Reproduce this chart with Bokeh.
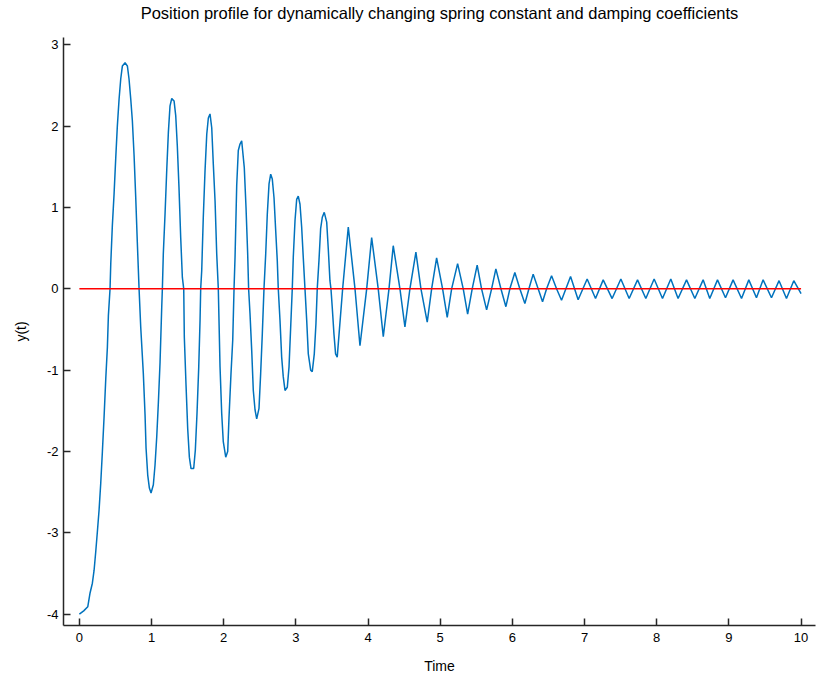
from bokeh.plotting import figure
from bokeh.models import Range1d, FixedTicker, Title
from bokeh.embed import file_html
from bokeh.resources import INLINE

# Position samples (time, y(t))
time = [
    0.000, 0.060, 0.116, 0.148, 0.180, 0.204, 0.227, 0.249, 0.273, 0.296,
    0.319, 0.342, 0.366, 0.388, 0.402, 0.425, 0.435, 0.457, 0.481, 0.504,
    0.526, 0.550, 0.573, 0.596, 0.633, 0.665, 0.688, 0.712, 0.734, 0.758,
    0.781, 0.803, 0.827, 0.850, 0.886, 0.910, 0.924, 0.947, 0.970, 0.993,
    1.025, 1.048, 1.072, 1.094, 1.118, 1.141, 1.150, 1.163, 1.187, 1.211,
    1.233, 1.256, 1.280, 1.312, 1.335, 1.357, 1.380, 1.404, 1.427, 1.446,
    1.454, 1.478, 1.501, 1.524, 1.547, 1.584, 1.607, 1.630, 1.654, 1.672,
    1.681, 1.695, 1.717, 1.741, 1.765, 1.787, 1.810, 1.834, 1.856, 1.880,
    1.903, 1.925, 1.949, 1.972, 1.994, 2.028, 2.055, 2.073, 2.101, 2.125,
    2.143, 2.157, 2.180, 2.202, 2.226, 2.249, 2.285, 2.309, 2.332, 2.345,
    2.364, 2.388, 2.410, 2.434, 2.457, 2.489, 2.512, 2.535, 2.558, 2.582,
    2.604, 2.628, 2.651, 2.673, 2.697, 2.720, 2.742, 2.756, 2.780, 2.803,
    2.825, 2.849, 2.881, 2.905, 2.928, 2.950, 2.964, 2.988, 3.011, 3.033,
    3.057, 3.080, 3.102, 3.126, 3.150, 3.172, 3.205, 3.227, 3.255, 3.278,
    3.296, 3.320, 3.343, 3.366, 3.393, 3.427, 3.449, 3.472, 3.486, 3.504,
    3.527, 3.550, 3.573, 3.648, 3.726, 3.819, 3.888, 3.981, 4.050, 4.141,
    4.211, 4.290, 4.349, 4.442, 4.511, 4.580, 4.663, 4.733, 4.820, 4.881,
    4.950, 5.033, 5.097, 5.158, 5.241, 5.319, 5.380, 5.443, 5.512, 5.573,
    5.643, 5.712, 5.771, 5.841, 5.910, 5.965, 6.034, 6.103, 6.173, 6.229,
    6.288, 6.357, 6.418, 6.474, 6.543, 6.612, 6.681, 6.806, 6.911, 7.036,
    7.152, 7.258, 7.382, 7.503, 7.618, 7.734, 7.849, 7.964, 8.080, 8.195,
    8.296, 8.413, 8.528, 8.643, 8.735, 8.842, 8.953, 9.058, 9.175, 9.276,
    9.382, 9.474, 9.590, 9.695, 9.798, 9.899, 10.000,
]
position = [
    -4.00, -3.96, -3.91, -3.74, -3.62, -3.46, -3.23, -2.99, -2.72, -2.39,
    -2.00, -1.58, -1.10, -0.72, -0.33, 0.00, 0.31, 0.78, 1.17, 1.61,
    2.00, 2.33, 2.58, 2.74, 2.78, 2.74, 2.58, 2.33, 2.07, 1.64,
    1.12, 0.57, 0.00, -0.47, -1.04, -1.55, -1.96, -2.29, -2.45, -2.51,
    -2.41, -2.17, -1.82, -1.41, -0.90, -0.23, 0.00, 0.43, 0.92, 1.47,
    1.92, 2.25, 2.34, 2.31, 2.13, 1.76, 1.25, 0.63, 0.14, 0.00,
    -0.59, -1.19, -1.72, -2.07, -2.21, -2.21, -1.98, -1.53, -0.96, -0.39,
    0.00, 0.22, 0.88, 1.45, 1.90, 2.10, 2.15, 1.98, 1.53, 1.08,
    0.43, 0.00, -0.96, -1.53, -1.88, -2.07, -2.00, -1.59, -1.04, -0.63,
    0.00, 0.39, 1.27, 1.70, 1.78, 1.82, 1.49, 1.00, 0.43, 0.00,
    -0.30, -0.76, -1.25, -1.49, -1.60, -1.47, -1.04, -0.55, 0.00, 0.43,
    0.92, 1.29, 1.41, 1.35, 1.12, 0.72, 0.35, 0.00, -0.39, -0.84,
    -1.08, -1.25, -1.21, -0.96, -0.47, 0.00, 0.39, 0.84, 1.10, 1.14,
    1.04, 0.76, 0.39, 0.00, -0.39, -0.80, -1.00, -1.02, -0.80, -0.43,
    0.00, 0.35, 0.74, 0.88, 0.94, 0.82, 0.49, 0.10, 0.00, -0.23,
    -0.55, -0.80, -0.84, 0.00, 0.76, 0.00, -0.70, 0.00, 0.63, 0.00,
    -0.59, 0.00, 0.53, 0.00, -0.47, 0.00, 0.45, 0.00, -0.41, 0.00,
    0.38, 0.00, -0.35, 0.00, 0.31, 0.00, -0.31, 0.00, 0.29, 0.00,
    -0.26, 0.00, 0.245, 0.00, -0.22, 0.00, 0.20, 0.00, -0.18, 0.00,
    0.18, 0.00, -0.16, 0.00, 0.16, 0.00, -0.14, 0.15, -0.135, 0.12,
    -0.12, 0.11, -0.12, 0.12, -0.12, 0.11, -0.12, 0.12, -0.12, 0.12,
    -0.12, 0.11, -0.12, 0.11, -0.12, 0.11, -0.11, 0.11, -0.12, 0.11,
    -0.11, 0.11, -0.11, 0.10, -0.12, 0.10, -0.06,
]
ref_time = [0, 10]
ref_value = [0, 0]
x_ticks = [0, 1, 2, 3, 4, 5, 6, 7, 8, 9, 10]
y_ticks = [-4, -3, -2, -1, 0, 1, 2, 3]
y_tick_labels = {-4: "-4", -3: "-3", -2: "-2", -1: "-1", 0: "0", 1: "1", 2: "2", 3: "3"}

title_text = "Position profile for dynamically changing spring constant and damping coefficients"

p = figure(width=817, height=676, output_backend="svg", toolbar_location=None,
           x_range=Range1d(-0.22, 10.2), y_range=Range1d(-4.14, 3.09),
           min_border_left=63, min_border_right=2, min_border_top=37,
           min_border_bottom=50)

spacer_title = Title(text=" ", text_font_size="1px", standoff=13, offset=0)
main_title = Title(text=title_text, text_font="Liberation Sans",
                   text_font_size="16.5px", text_font_style="normal",
                   align="center", text_color="#000000", standoff=0, offset=0)
p.add_layout(spacer_title, "above")
p.add_layout(main_title, "above")

p.line(time, position, line_color="#0072BD", line_width=1.5)
p.line(ref_time, ref_value, line_color="#FF0000", line_width=1.5)

p.xgrid.visible = False
p.ygrid.visible = False
p.outline_line_color = None
p.background_fill_color = "white"
p.border_fill_color = "white"

p.xaxis.ticker = FixedTicker(ticks=x_ticks)
p.yaxis.ticker = FixedTicker(ticks=y_ticks)
p.yaxis.major_label_overrides = y_tick_labels
for ax in (p.xaxis, p.yaxis):
    ax.axis_line_color = "#262626"
    ax.axis_line_width = 1.5
    ax.major_tick_line_color = "#262626"
    ax.major_tick_line_width = 1.5
    ax.major_tick_in = 7
    ax.major_tick_out = 0
    ax.minor_tick_in = 0
    ax.minor_tick_out = 0
    ax.major_label_text_font = "Liberation Sans"
    ax.major_label_text_font_size = "13px"
    ax.major_label_text_color = "#000000"
    ax.axis_label_text_font = "Liberation Sans"
    ax.axis_label_text_font_size = "14px"
    ax.axis_label_text_font_style = "normal"
    ax.axis_label_text_color = "#000000"

p.xaxis.axis_label = "Time"
p.yaxis.axis_label = "y(t)"
p.xaxis.major_label_standoff = 7
p.xaxis.axis_label_standoff = 13
p.yaxis.major_label_standoff = 5
p.yaxis.axis_label_standoff = 15

open("out.html", "w").write(file_html(p, INLINE))
